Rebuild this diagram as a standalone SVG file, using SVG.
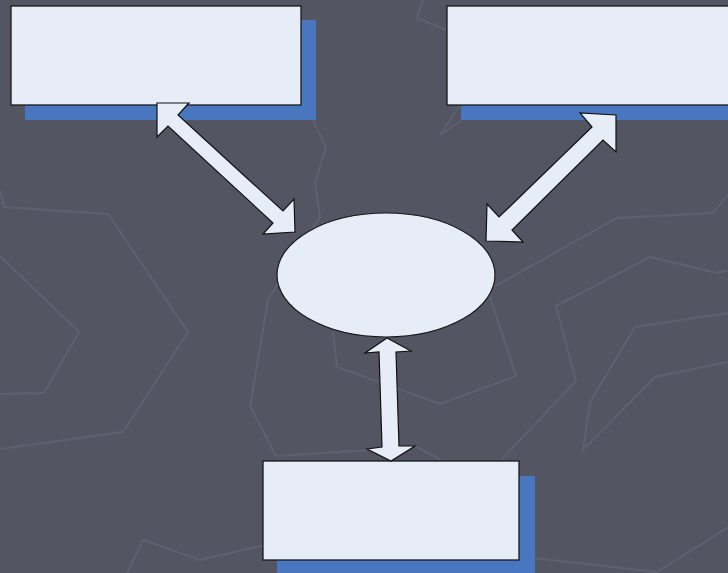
<svg xmlns="http://www.w3.org/2000/svg" width="728" height="573" viewBox="0 0 728 573">
  <style>
    .bgline { fill: none; stroke: #5e6070; stroke-width: 2; stroke-linejoin: miter; }
    .shadow { fill: #4877bf; }
    .box { fill: #e6edf7; stroke: #1a1a1a; stroke-width: 1.3; }
    .oval { fill: #e6edf7; stroke: #1a1a1a; stroke-width: 1.2; }
    .arrow { fill: #e6edf7; stroke: #111111; stroke-width: 1.2; stroke-linejoin: miter; }
  </style>

  <!-- backdrop -->
  <rect x="0" y="0" width="728" height="573" fill="#535563"/>
  <g id="backdrop-lines">
    <polyline class="bgline" points="0,190 4,207 108,214 188,332 123,432 0,449"/>
    <polyline class="bgline" points="0,256 79,332 44,393 0,394"/>
    <polyline class="bgline" points="313,120 326,147 315,183 320,217 268,300 250,406 276,456 370,450 417,447 441,460"/>
    <polyline class="bgline" points="478,262 491,300 516,376 440,404 337,367 333,332"/>
    <polyline class="bgline" points="501,460 576,381 556,306 650,257 717,273 728,270"/>
    <polyline class="bgline" points="470,300 617,218 713,213 728,195"/>
    <polyline class="bgline" points="728,313 635,327 590,402 583,450 655,377 728,362"/>
    <polyline class="bgline" points="127,573 143,540 200,560 265,545"/>
    <polyline class="bgline" points="533,558 657,572 728,527"/>
    <polyline class="bgline" points="423,0 417,18 447,30"/>
    <polyline class="bgline" points="460,105 440,135 462,120"/>
  </g>

  <!-- upper left box -->
  <g id="box-top-left">
    <rect class="shadow" x="25" y="20" width="291" height="100"/>
    <rect class="box" x="11" y="6" width="290" height="99"/>
  </g>

  <!-- upper right box -->
  <g id="box-top-right">
    <rect class="shadow" x="461" y="20" width="280" height="100"/>
    <rect class="box" x="447" y="6" width="290" height="99"/>
  </g>

  <!-- centre oval -->
  <g id="hub">
    <ellipse class="oval" cx="386" cy="275" rx="109" ry="62"/>
  </g>

  <!-- bottom box -->
  <g id="box-bottom">
    <rect class="shadow" x="277" y="476" width="258" height="100"/>
    <rect class="box" x="263" y="461" width="256" height="99"/>
  </g>

  <!-- two-headed block arrows -->
  <g id="connectors">
    <polygon class="arrow" points="157,103 189,103 178,115 283,211 294,199 295,232 263,234 273,223 168,126 157,137"/>
    <polygon class="arrow" points="616,115 616,152 603,140 512,230 523,242 486,241 487,204 499,217 592,127 580,113"/>
    <polygon class="arrow" points="387,338 411,351 396,352 399,446 415,446 391,461 367,449 382,447 379,352 365,353"/>
  </g>
</svg>
